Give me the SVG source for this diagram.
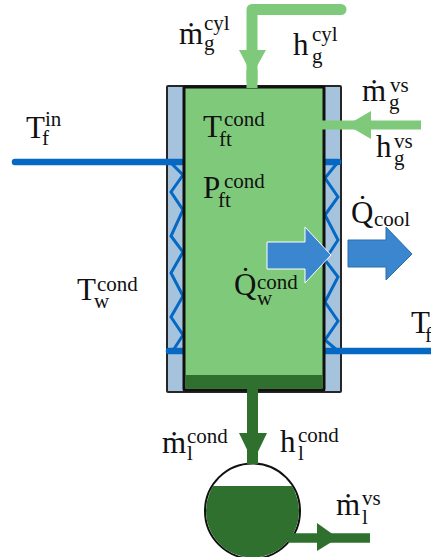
<svg xmlns="http://www.w3.org/2000/svg" width="431" height="557" viewBox="0 0 431 557">
<style>
text{font-family:"Liberation Serif","Times New Roman",serif;fill:#111;font-size:31px}
.s{font-size:21px}
.wall{fill:#a6c3de;stroke:#262626;stroke-width:2}
.tank{fill:#7fca7a;stroke:#111;stroke-width:3}
.zig{fill:none;stroke:#0569c4;stroke-width:3}
.cool{stroke:#0569c4;stroke-width:6.500;stroke-linecap:round;fill:none}
.lg{stroke:#7fca7a;fill:none}
.dg{stroke:#30702e;fill:none}
.lgf{fill:#7fca7a}
.dgf{fill:#30702e}
</style>
<defs><clipPath id="c"><circle cx="252.500" cy="511" r="46.500"/></clipPath></defs>
<g id="condenser-wall"><rect class="wall" x="167" y="86" width="174" height="306" rx="1"/></g>
<g id="connectors">
<path class="zig" d="M170 162L183 175L171 192L183 210L171 236L183 252L171 273L183 296L171 317L183 335L172 352"/>
<path class="zig" d="M338 162L325 178L338 197L325 215L338 240L325 260L338 277L325 302L338 321L325 340L338 351"/>
<path class="cool" d="M15 162H184M324 162H338"/>
<path class="cool" d="M169 351H184"/>
<path class="cool" d="M324 351H431" style="stroke-linecap:butt"/>
</g>
<g id="condenser-tank">
<rect class="tank" x="184" y="87" width="140" height="303" rx="1"/>
<rect class="dgf" x="185.500" y="375" width="137" height="13.500"/>
</g>
<g id="receiver">
<circle cx="252.500" cy="511" r="47.500" fill="#fff" stroke="#111" stroke-width="2"/>
<rect class="dgf" x="200" y="486" width="105" height="75" clip-path="url(#c)"/>
</g>
<g id="flows">
<path class="lg" stroke-width="11" stroke-linejoin="round" stroke-linecap="round" d="M252 80V9.500H341"/>
<path class="lg" stroke-width="11" d="M252 70V88"/>
<path class="lgf" d="M239 50H266L252 75Z"/>
<path class="lg" stroke-width="9" d="M322 125H421"/>
<path class="lgf" d="M371 111V139L347 125Z"/>
<path class="dg" stroke-width="11" d="M252.500 388V464"/>
<path class="dgf" d="M239 433H267L253 462Z"/>
<path class="dg" stroke-width="9.500" d="M288 538H370"/>
<path class="dgf" d="M317 523L338 538L317 551Z"/>
<path d="M267 242H305V227L331 255L305 283V269H267Z" fill="#3a87cf" stroke="#fff" stroke-width="1"/>
<path d="M348 240H386V227L412 254L386 280V267H348Z" fill="#3a87cf" stroke="#2f6da8" stroke-width="1"/>
</g>
<g id="labels">
<text id="m-g-cyl"><tspan x="179" y="44">ṁ</tspan><tspan class="s" x="204" y="30">cyl</tspan><tspan class="s" x="204" y="50">g</tspan></text>
<text id="h-g-cyl"><tspan x="293" y="55">h</tspan><tspan class="s" x="312" y="41">cyl</tspan><tspan class="s" x="312" y="63">g</tspan></text>
<text id="m-g-vs"><tspan x="362" y="101">ṁ</tspan><tspan class="s" x="390" y="92">vs</tspan><tspan class="s" x="389" y="109">g</tspan></text>
<text id="h-g-vs"><tspan x="376" y="157">h</tspan><tspan class="s" x="394" y="148">vs</tspan><tspan class="s" x="394" y="165">g</tspan></text>
<text id="t-f-in"><tspan x="26" y="138">T</tspan><tspan class="s" x="45" y="126">in</tspan><tspan class="s" x="42" y="145">f</tspan></text>
<text id="t-ft"><tspan x="203" y="137">T</tspan><tspan class="s" x="224" y="126">cond</tspan><tspan class="s" x="219" y="146">ft</tspan></text>
<text id="p-ft"><tspan x="203" y="198">P</tspan><tspan class="s" x="224" y="188">cond</tspan><tspan class="s" x="218" y="207">ft</tspan></text>
<text id="q-cool"><tspan x="351" y="223">Q̇</tspan><tspan class="s" x="374" y="226">cool</tspan></text>
<text id="q-w"><tspan x="234" y="295">Q̇</tspan><tspan class="s" x="257" y="289">cond</tspan><tspan class="s" x="257" y="305">w</tspan></text>
<text id="t-w"><tspan x="77" y="300">T</tspan><tspan class="s" x="97" y="291">cond</tspan><tspan class="s" x="94" y="308">w</tspan></text>
<text id="t-f-out"><tspan x="411" y="333">T</tspan><tspan class="s" x="425" y="342">f</tspan></text>
<text id="m-l-cond"><tspan x="162" y="453">ṁ</tspan><tspan class="s" x="187" y="443">cond</tspan><tspan class="s" x="187" y="460">l</tspan></text>
<text id="h-l-cond"><tspan x="280" y="452">h</tspan><tspan class="s" x="298" y="442">cond</tspan><tspan class="s" x="298" y="460">l</tspan></text>
<text id="m-l-vs"><tspan x="336" y="515">ṁ</tspan><tspan class="s" x="362" y="505">vs</tspan><tspan class="s" x="362" y="524">l</tspan></text>
</g>
</svg>
